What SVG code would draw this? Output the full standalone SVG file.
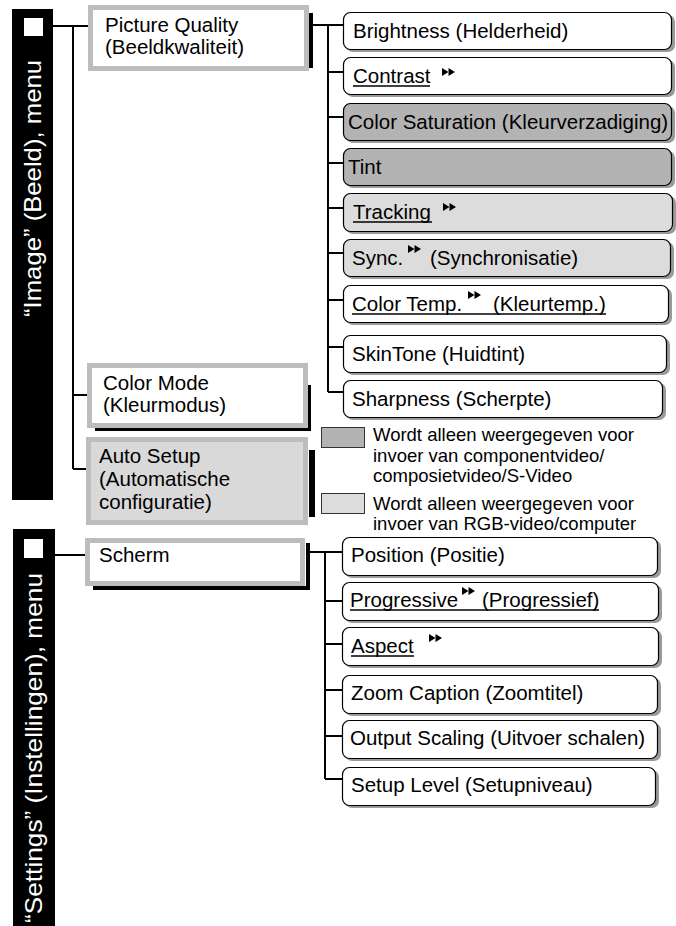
<svg xmlns="http://www.w3.org/2000/svg" width="676" height="926" viewBox="0 0 676 926">
<defs>
<style>
.t{font-family:"Liberation Sans",Arial,sans-serif;font-size:20.5px;fill:#000}
.lg{font-size:18.5px}
.rot{font-family:"Liberation Sans",Arial,sans-serif;font-size:24px;fill:#fff}
.cn{stroke:#000;stroke-width:2;fill:none}
.lb{fill:#fff;stroke:#bdbdbd;stroke-width:5}
.lbg{fill:#d9d9d9;stroke:#bdbdbd;stroke-width:5}
.rb{fill:#fff;stroke:#000;stroke-width:1.2}
.dk{fill:#b3b3b3}
.lt{fill:#dcdcdc}
.sh{fill:#9a9a9a}
.ul{stroke:#000;stroke-width:1.3}
</style>
<g id="ff"><polygon points="0,0 6.5,4 0,8"/><polygon points="6.5,0 13,4 6.5,8"/></g>
</defs>
<rect width="676" height="926" fill="#fff"/>

<g id="connectors">
<path class="cn" d="M53,26 H88 M73,26 V469 M73,395 H87 M73,469 H86"/>
<path class="cn" d="M313,25 H343 M328,25 V392 M328,72 H343 M328,117 H343 M328,163 H343 M328,208 H343 M328,253 H343 M328,300 H343 M328,347 H343 M328,392 H343"/>
<path class="cn" d="M55,555 H85"/>
<path class="cn" d="M310,552 H342 M325,552 V779 M325,601 H342 M325,644 H342 M325,690 H342 M325,736 H342 M325,779 H342"/>
</g>

<g id="image-menu">
<rect x="12" y="9" width="41" height="491" fill="#000"/>
<rect x="24" y="18" width="19" height="18" fill="#fff"/>
<text class="rot" transform="translate(41,317) rotate(-90)" textLength="257" lengthAdjust="spacingAndGlyphs">“Image” (Beeld), menu</text>
</g>

<g id="settings-menu">
<rect x="13" y="529" width="42" height="397" fill="#000"/>
<rect x="24" y="539" width="19" height="19" fill="#fff"/>
<text class="rot" transform="translate(42,923) rotate(-90)" textLength="350" lengthAdjust="spacingAndGlyphs">“Settings” (Instellingen), menu</text>
</g>

<g id="picture-quality">
<rect x="309" y="13" width="4" height="55" fill="#000"/>
<rect class="lb" x="90.5" y="7.5" width="216" height="61"/>
<text class="t" x="105" y="32">Picture Quality</text>
<text class="t" x="105" y="54">(Beeldkwaliteit)</text>
</g>

<g id="color-mode">
<rect x="308" y="385" width="3" height="46" fill="#000"/>
<rect x="95" y="428" width="216" height="3" fill="#000"/>
<rect class="lb" x="89.5" y="365.5" width="216" height="60"/>
<text class="t" x="103" y="390">Color Mode</text>
<text class="t" x="103" y="412">(Kleurmodus)</text>
</g>

<g id="auto-setup">
<rect x="309" y="450" width="6" height="67" fill="#000"/>
<rect class="lbg" x="88.5" y="439.5" width="217" height="83"/>
<text class="t" x="99" y="463">Auto Setup</text>
<text class="t" x="99" y="486">(Automatische</text>
<text class="t" x="99" y="509">configuratie)</text>
</g>

<g id="scherm">
<rect x="306" y="543" width="4" height="47" fill="#000"/>
<rect x="93" y="586" width="217" height="4" fill="#000"/>
<rect class="lb" x="87.5" y="540.5" width="215" height="43"/>
<text class="t" x="99" y="562">Scherm</text>
</g>

<g id="brightness">
<rect class="sh" x="346" y="15" width="329" height="37" rx="7"/>
<rect class="rb" x="343.5" y="12.5" width="328" height="37" rx="7"/>
<text class="t" x="353" y="38">Brightness (Helderheid)</text>
</g>

<g id="contrast">
<rect class="sh" x="346" y="60" width="329" height="37" rx="7"/>
<rect class="rb" x="343.5" y="57.5" width="328" height="37" rx="7"/>
<text class="t" x="353" y="83">Contrast</text>
<line class="ul" x1="353" y1="86" x2="430" y2="86"/>
<use href="#ff" x="442" y="68"/>
</g>

<g id="color-saturation">
<rect class="sh" x="346" y="106" width="329" height="37" rx="7"/>
<rect class="rb dk" x="343.5" y="103.5" width="328" height="37" rx="7"/>
<text class="t" x="348" y="129">Color Saturation (Kleurverzadiging)</text>
</g>

<g id="tint">
<rect class="sh" x="346" y="151" width="329" height="37" rx="7"/>
<rect class="rb dk" x="343.5" y="148.5" width="328" height="37" rx="7"/>
<text class="t" x="348" y="174">Tint</text>
</g>

<g id="tracking">
<rect class="sh" x="346" y="196" width="330" height="38" rx="7"/>
<rect class="rb lt" x="343.5" y="193.5" width="329" height="38" rx="7"/>
<text class="t" x="353" y="219">Tracking</text>
<line class="ul" x1="353" y1="222" x2="432" y2="222"/>
<use href="#ff" x="443" y="203"/>
</g>

<g id="sync">
<rect class="sh" x="346" y="242" width="328" height="37" rx="7"/>
<rect class="rb lt" x="343.5" y="239.5" width="327" height="37" rx="7"/>
<text class="t" x="352" y="265">Sync.</text>
<use href="#ff" x="408" y="245"/>
<text class="t" x="430" y="265">(Synchronisatie)</text>
</g>

<g id="color-temp">
<rect class="sh" x="346" y="288" width="326" height="37" rx="7"/>
<rect class="rb" x="343.5" y="285.5" width="325" height="37" rx="7"/>
<text class="t" x="352" y="311">Color Temp.</text>
<use href="#ff" x="468" y="291"/>
<text class="t" x="493" y="311">(Kleurtemp.)</text>
<line class="ul" x1="352" y1="314" x2="606" y2="314"/>
</g>

<g id="skintone">
<rect class="sh" x="346" y="338" width="324" height="37" rx="7"/>
<rect class="rb" x="343.5" y="335.5" width="323" height="37" rx="7"/>
<text class="t" x="352" y="361">SkinTone (Huidtint)</text>
</g>

<g id="sharpness">
<rect class="sh" x="346" y="383" width="320" height="37" rx="7"/>
<rect class="rb" x="343.5" y="380.5" width="319" height="37" rx="7"/>
<text class="t" x="352" y="406">Sharpness (Scherpte)</text>
</g>

<g id="legend">
<rect x="321.5" y="427.5" width="43" height="20" fill="#b3b3b3" stroke="#333" stroke-width="1"/>
<text class="t lg" x="373" y="441">Wordt alleen weergegeven voor</text>
<text class="t lg" x="373" y="461.5">invoer van componentvideo/</text>
<text class="t lg" x="373" y="481.5">composietvideo/S-Video</text>
<rect x="321.5" y="493.5" width="43" height="20" fill="#dcdcdc" stroke="#333" stroke-width="1"/>
<text class="t lg" x="373" y="510">Wordt alleen weergegeven voor</text>
<text class="t lg" x="373" y="530">invoer van RGB-video/computer</text>
</g>

<g id="position">
<rect class="sh" x="345" y="540" width="316" height="38" rx="7"/>
<rect class="rb" x="342.5" y="537.5" width="315" height="38" rx="7"/>
<text class="t" x="351" y="562">Position (Positie)</text>
</g>

<g id="progressive">
<rect class="sh" x="345" y="585" width="317" height="38" rx="7"/>
<rect class="rb" x="342.5" y="582.5" width="316" height="38" rx="7"/>
<text class="t" x="350" y="607">Progressive</text>
<use href="#ff" x="462" y="587"/>
<text class="t" x="482" y="607">(Progressief)</text>
<line class="ul" x1="350" y1="610" x2="599" y2="610"/>
</g>

<g id="aspect">
<rect class="sh" x="345" y="630" width="317" height="38" rx="7"/>
<rect class="rb" x="342.5" y="627.5" width="316" height="38" rx="7"/>
<text class="t" x="351" y="653">Aspect</text>
<line class="ul" x1="351" y1="656" x2="414" y2="656"/>
<use href="#ff" x="429" y="634"/>
</g>

<g id="zoom-caption">
<rect class="sh" x="345" y="678" width="316" height="38" rx="7"/>
<rect class="rb" x="342.5" y="675.5" width="315" height="38" rx="7"/>
<text class="t" x="351" y="700">Zoom Caption (Zoomtitel)</text>
</g>

<g id="output-scaling">
<rect class="sh" x="345" y="723" width="316" height="38" rx="7"/>
<rect class="rb" x="342.5" y="720.5" width="315" height="38" rx="7"/>
<text class="t" x="350" y="745">Output Scaling (Uitvoer schalen)</text>
</g>

<g id="setup-level">
<rect class="sh" x="345" y="770" width="314" height="38" rx="7"/>
<rect class="rb" x="342.5" y="767.5" width="313" height="38" rx="7"/>
<text class="t" x="351" y="792">Setup Level (Setupniveau)</text>
</g>
</svg>
